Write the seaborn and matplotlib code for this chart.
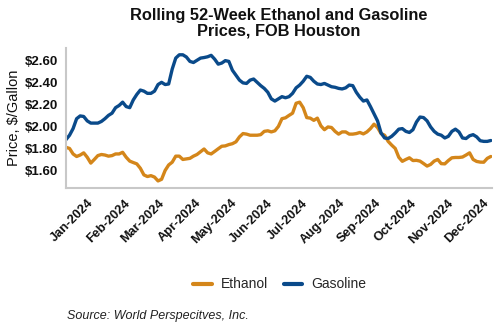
import matplotlib
matplotlib.use("Agg")
import matplotlib.pyplot as plt
import matplotlib.dates as mdates
import matplotlib.ticker as mticker
from matplotlib.lines import Line2D
import seaborn as sns
import pandas as pd

start_date = "2023-12-14"
n_points = 121

ethanol = [1.81, 1.80, 1.75, 1.727, 1.74, 1.76, 1.72, 1.667, 1.70, 1.735,
           1.745, 1.74, 1.73, 1.735, 1.75, 1.75, 1.765, 1.72, 1.685, 1.672,
           1.66, 1.62, 1.56, 1.545, 1.553, 1.54, 1.505, 1.52, 1.60, 1.65,
           1.675, 1.73, 1.73, 1.70, 1.705, 1.71, 1.73, 1.745, 1.77, 1.795,
           1.76, 1.75, 1.773, 1.797, 1.82, 1.823, 1.835, 1.843, 1.86, 1.905,
           1.935, 1.93, 1.92, 1.92, 1.92, 1.925, 1.955, 1.96, 1.95, 1.96,
           2.00, 2.07, 2.078, 2.10, 2.12, 2.21, 2.22, 2.17, 2.08, 2.075,
           2.055, 2.075, 2.005, 1.97, 1.995, 1.99, 1.955, 1.93, 1.95, 1.95,
           1.93, 1.93, 1.935, 1.945, 1.932, 1.95, 1.98, 2.02, 1.99, 1.935,
           1.92, 1.864, 1.83, 1.80, 1.72, 1.683, 1.70, 1.715, 1.69, 1.692,
           1.685, 1.663, 1.64, 1.655, 1.685, 1.70, 1.662, 1.66, 1.69, 1.715,
           1.718, 1.718, 1.722, 1.74, 1.76, 1.70, 1.682, 1.676, 1.675, 1.71,
           1.727]

gasoline = [1.88, 1.92, 1.98, 2.07, 2.095, 2.09, 2.05, 2.03, 2.03, 2.03,
            2.045, 2.07, 2.10, 2.12, 2.17, 2.19, 2.22, 2.18, 2.17, 2.24,
            2.29, 2.33, 2.32, 2.30, 2.30, 2.32, 2.38, 2.40, 2.38, 2.385,
            2.52, 2.62, 2.65, 2.65, 2.63, 2.59, 2.58, 2.60, 2.62, 2.625,
            2.632, 2.645, 2.61, 2.565, 2.575, 2.597, 2.59, 2.51, 2.465, 2.42,
            2.395, 2.39, 2.42, 2.43, 2.40, 2.37, 2.345, 2.31, 2.25, 2.23,
            2.25, 2.27, 2.26, 2.27, 2.30, 2.35, 2.375, 2.41, 2.455, 2.445,
            2.41, 2.385, 2.38, 2.39, 2.375, 2.36, 2.355, 2.345, 2.34, 2.35,
            2.375, 2.37, 2.31, 2.265, 2.23, 2.24, 2.18, 2.115, 2.05, 1.94,
            1.895, 1.89, 1.91, 1.94, 1.975, 1.98, 1.955, 1.945, 1.97, 2.04,
            2.085, 2.08, 2.05, 1.995, 1.955, 1.93, 1.92, 1.895, 1.91, 1.955,
            1.975, 1.95, 1.895, 1.89, 1.915, 1.925, 1.905, 1.87, 1.864, 1.864,
            1.872]

series_names = ["Ethanol", "Gasoline"]
series_colors = ["#D4861A", "#0A4A8A"]
y_ticks = [1.60, 1.80, 2.00, 2.20, 2.40, 2.60]

dates = pd.date_range(start_date, periods=n_points, freq="3D")
df = pd.DataFrame({"Date": dates, "Ethanol": ethanol, "Gasoline": gasoline})
long = df.melt(id_vars="Date", var_name="Series", value_name="Price")

# ---- style ----
sns.set_theme(style="white")
plt.rcParams["font.family"] = ["Liberation Sans", "DejaVu Sans"]

fig = plt.figure(figsize=(5.0, 3.3), dpi=100)
ax = fig.add_axes([0.132, 0.430, 0.852, 0.424])

sns.lineplot(data=long, x="Date", y="Price", hue="Series",
             hue_order=series_names, palette=series_colors,
             linewidth=2.4, ax=ax, legend=False)

ax.set_xlim(pd.Timestamp("2023-12-14"), pd.Timestamp("2024-12-09"))
ax.set_ylim(1.44, 2.71)

ax.yaxis.set_major_locator(mticker.FixedLocator(y_ticks))
ax.yaxis.set_major_formatter(mticker.FuncFormatter(lambda v, p: f"${v:.2f}"))
ax.xaxis.set_major_locator(mdates.MonthLocator())
ax.xaxis.set_major_formatter(mdates.DateFormatter("%b-%Y"))

for lab in ax.get_yticklabels():
    lab.set_fontweight("bold")
    lab.set_fontsize(9.5)
for lab in ax.get_xticklabels():
    lab.set_fontweight("bold")
    lab.set_fontsize(9.2)
    lab.set_rotation(45)
    lab.set_ha("right")
    lab.set_rotation_mode("anchor")

ax.tick_params(axis="both", which="major", direction="out", length=3.5,
               width=1, color="#404040", pad=2, labelcolor="#111111")
ax.tick_params(axis="x", pad=3)

for side in ["top", "right"]:
    ax.spines[side].set_visible(False)
for side in ["left", "bottom"]:
    ax.spines[side].set_color("#C8C8C8")
    ax.spines[side].set_linewidth(1.5)

ax.set_xlabel("")
ax.set_ylabel("Price, $/Gallon", fontsize=10.5, color="#111111", labelpad=3)

ax.set_title("Rolling 52-Week Ethanol and Gasoline\nPrices, FOB Houston",
             fontsize=11.8, fontweight="bold", color="#111111", pad=9,
             linespacing=1.05)

# legend
handles = [Line2D([0], [0], color=c, lw=3) for c in series_colors]
fig.legend(handles, series_names, loc="center", bbox_to_anchor=(0.56, 0.138),
           ncol=2, frameon=False, fontsize=10, handlelength=1.3,
           handletextpad=0.7, columnspacing=1.1)

fig.text(0.134, 0.043, "Source: World Perspecitves, Inc.", fontsize=9,
         style="italic", color="#222222", ha="left", va="center")

fig.savefig("out.png", dpi=100)
